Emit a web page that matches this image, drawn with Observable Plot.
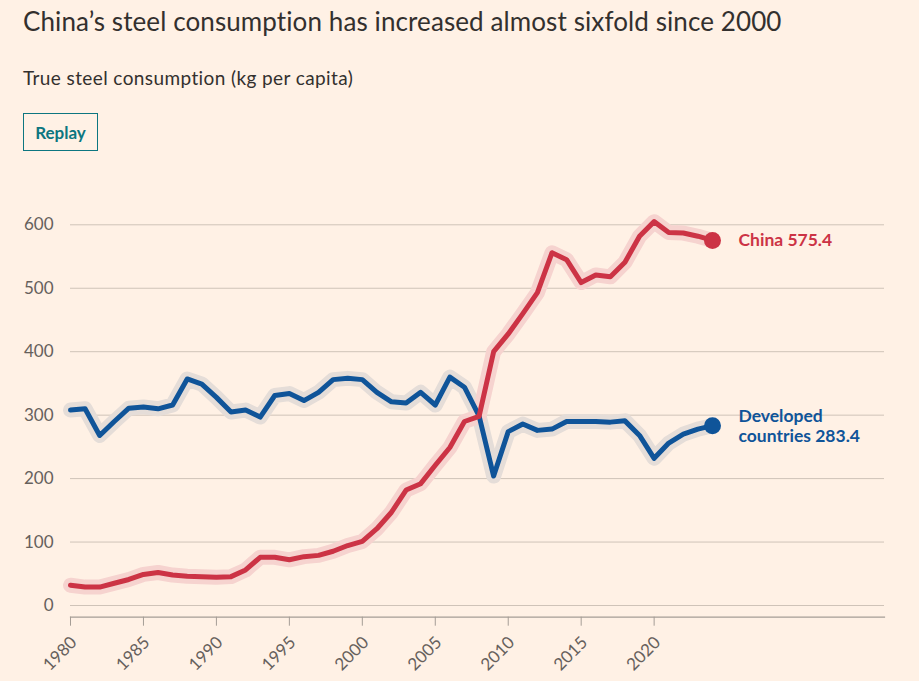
<!DOCTYPE html>
<html>
<head>
<meta charset="utf-8">
<script src="https://cdn.jsdelivr.net/npm/d3@7"></script>
<script src="https://cdn.jsdelivr.net/npm/@observablehq/plot@0.6"></script>
<style>
  html, body { margin: 0; padding: 0; background: #FFF1E5; }
  body { width: 919px; height: 681px; position: relative; overflow: hidden; font-family: Lato, "Noto Sans", sans-serif; color: #33302E; }
  #title { position: absolute; left: 23px; top: 7.5px; margin: 0; font-size: 26px; line-height: 26px; font-weight: 400; letter-spacing: 0.1px; white-space: nowrap; color: #33302E; }
  #subtitle { position: absolute; left: 23px; top: 68px; margin: 0; font-size: 19px; line-height: 19px; letter-spacing: 0.4px; white-space: nowrap; color: #33302E; }
  #replay { position: absolute; left: 23px; top: 113px; width: 75px; height: 38px; box-sizing: border-box; border: 1px solid #0D7680; color: #0D7680; background: transparent; font: 700 17px Lato, sans-serif; padding: 0; }
  #chart { position: absolute; left: 0; top: 160px; }
</style>
</head>
<body>
<h1 id="title">China’s steel consumption has increased almost sixfold since 2000</h1>
<p id="subtitle">True steel consumption (kg per capita)</p>
<button id="replay">Replay</button>
<div id="chart"></div>
<script>
const years = [1980,1981,1982,1983,1984,1985,1986,1987,1988,1989,
               1990,1991,1992,1993,1994,1995,1996,1997,1998,1999,
               2000,2001,2002,2003,2004,2005,2006,2007,2008,2009,
               2010,2011,2012,2013,2014,2015,2016,2017,2018,2019,
               2020,2021,2022,2023,2024];
const china = [32,29,29,35,41,49,52,48,46,45.5,
               44.5,45.5,56,76,76,72,77,79,85.5,94.5,
               101,121,147,182,192,221,249,290,298,400,
               428,460,493,556,545,509,521,518,541,582,
               605,588,587,582,575.4];
const developed = [308,310,268,290,311,313,310,316,357,349,
                   328,305,308,297,331,334,323,336,356,358,
                   356,336,321,319,336,316,360,344,299,204,
                   274,286,276,278,290,290,290,289,291,268,
                   232,256,270,278,283.4];
const seriesNames = ["China", "Developed\ncountries"];
const yTicks = [0,100,200,300,400,500,600];
const xTicks = [1980,1985,1990,1995,2000,2005,2010,2015,2020];

const RED = "#CC3345", RED_HALO = "#F6D3CF";
const BLUE = "#0F5499", BLUE_HALO = "#E5DDD8";

const chinaData = years.map((y, i) => ({year: y, value: china[i]}));
const devData = years.map((y, i) => ({year: y, value: developed[i]}));
const lastChina = [chinaData[chinaData.length - 1]];
const lastDev = [devData[devData.length - 1]];

const chart = Plot.plot({
  width: 919,
  height: 521,
  marginLeft: 70,
  marginRight: 35,
  marginTop: 0,
  marginBottom: 64.3,
  style: {background: "transparent", fontFamily: "Lato, 'Noto Sans', sans-serif", fontSize: "17px", color: "#66605C", overflow: "visible"},
  x: {domain: [1980, 2024], range: [70, 712]},
  y: {domain: [0, 600], range: [445, 64.3]},
  marks: [
    Plot.ruleY(yTicks, {stroke: "#CFC3B8", strokeWidth: 1}),
    Plot.frame({anchor: "bottom", stroke: "#A59D96", strokeWidth: 1.2}),
    Plot.axisY(yTicks, {tickSize: 0, tickPadding: 17, label: null, fill: "#66605C", fontSize: 17}),
    Plot.axisX(xTicks, {tickSize: 9, text: null, label: null, stroke: "#A59D96"}),
    Plot.text(xTicks, {x: d => d, frameAnchor: "bottom", text: d => String(d), rotate: -45, textAnchor: "end", lineAnchor: "middle", dx: 3.5, dy: 22.5, fill: "#66605C", fontSize: 17}),
    Plot.lineY(devData, {x: "year", y: "value", stroke: BLUE_HALO, strokeWidth: 15}),
    Plot.lineY(chinaData, {x: "year", y: "value", stroke: RED_HALO, strokeWidth: 15}),
    Plot.lineY(devData, {x: "year", y: "value", stroke: BLUE, strokeWidth: 5}),
    Plot.lineY(chinaData, {x: "year", y: "value", stroke: RED, strokeWidth: 5}),
    Plot.dot(lastChina, {x: "year", y: "value", r: 8.5, fill: RED}),
    Plot.dot(lastDev, {x: "year", y: "value", r: 8.5, fill: BLUE}),
    Plot.text(lastChina, {x: "year", y: "value", text: d => `${seriesNames[0]} ${d.value}`, dx: 26, textAnchor: "start", fill: RED, fontSize: 17.5, fontWeight: 700}),
    Plot.text(lastDev, {x: "year", y: "value", text: d => `${seriesNames[1]} ${d.value}`, dx: 26, textAnchor: "start", lineAnchor: "middle", lineHeight: 1.15, fill: BLUE, fontSize: 17.5, fontWeight: 700})
  ]
});
document.getElementById("chart").appendChild(chart);
</script>
</body>
</html>
